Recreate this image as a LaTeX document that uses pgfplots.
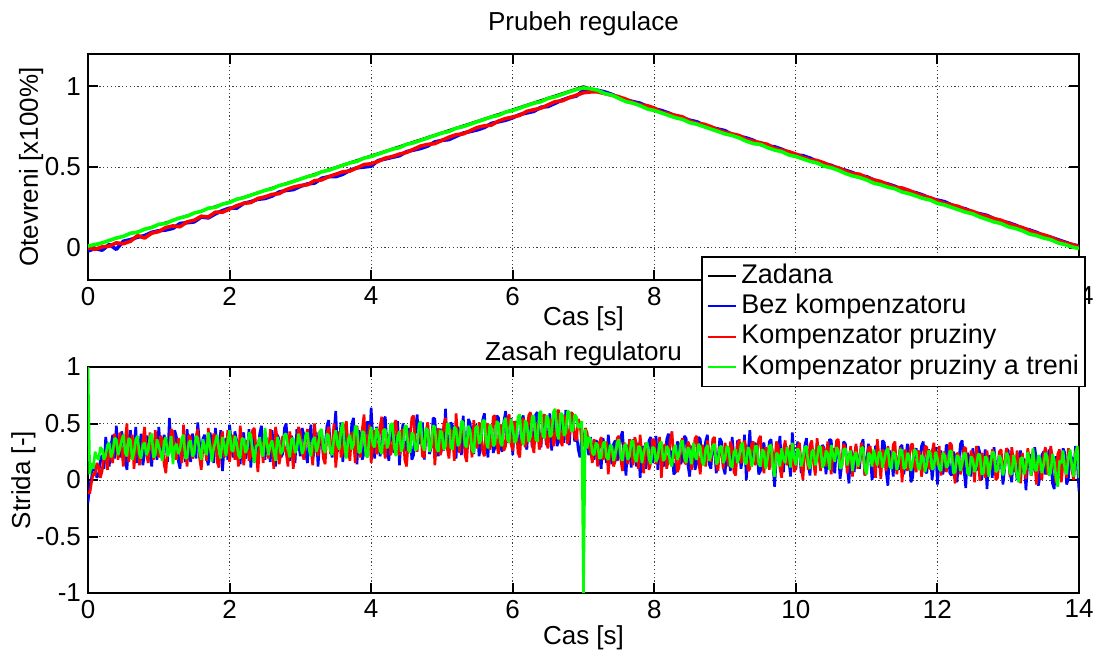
\documentclass[border=0pt]{standalone}
\usepackage{fontspec}
\setmainfont{Liberation Sans}
\usepackage{pgfplots}
\usepackage{pgfplotstable}
\pgfplotsset{compat=1.18}

\definecolor{mblue}{rgb}{0,0,1}
\definecolor{mred}{rgb}{1,0,0}
\definecolor{mgreen}{rgb}{0,1,0}

% measured opening: t, bez kompenzatoru, komp. pruziny, komp. pruziny a treni
\pgfplotstableread{
t b r g
0.0 -0.020 0.000 0.010
0.1 -0.005 -0.010 0.020
0.2 -0.015 0.005 0.030
0.3 0.020 0.010 0.045
0.4 -0.010 0.030 0.060
0.5 0.040 0.025 0.070
0.6 0.050 0.040 0.090
0.7 0.065 0.075 0.095
0.8 0.075 0.060 0.115
0.9 0.095 0.090 0.125
1.0 0.105 0.100 0.145
1.1 0.110 0.125 0.150
1.2 0.120 0.135 0.170
1.3 0.150 0.130 0.185
1.4 0.155 0.160 0.195
1.5 0.160 0.170 0.215
1.6 0.190 0.195 0.225
1.7 0.185 0.190 0.245
1.8 0.210 0.220 0.250
1.9 0.230 0.220 0.270
2.0 0.245 0.240 0.280
2.1 0.245 0.260 0.300
2.2 0.275 0.275 0.310
2.3 0.285 0.280 0.325
2.4 0.300 0.305 0.340
2.5 0.305 0.315 0.355
2.6 0.320 0.330 0.365
2.7 0.345 0.335 0.385
2.8 0.355 0.360 0.395
2.9 0.360 0.375 0.410
3.0 0.380 0.385 0.425
3.1 0.395 0.390 0.440
3.2 0.400 0.415 0.450
3.3 0.430 0.420 0.470
3.4 0.440 0.440 0.480
3.5 0.440 0.455 0.495
3.6 0.455 0.470 0.510
3.7 0.480 0.475 0.525
3.8 0.495 0.495 0.535
3.9 0.500 0.515 0.555
4.0 0.505 0.520 0.565
4.1 0.540 0.535 0.580
4.2 0.550 0.555 0.595
4.3 0.560 0.565 0.610
4.4 0.570 0.580 0.620
4.5 0.595 0.590 0.640
4.6 0.605 0.610 0.650
4.7 0.615 0.630 0.665
4.8 0.630 0.640 0.680
4.9 0.655 0.645 0.695
5.0 0.665 0.665 0.710
5.1 0.670 0.685 0.720
5.2 0.690 0.700 0.740
5.3 0.710 0.705 0.750
5.4 0.720 0.725 0.765
5.5 0.730 0.745 0.780
5.6 0.745 0.755 0.795
5.7 0.770 0.760 0.810
5.8 0.780 0.785 0.820
5.9 0.790 0.800 0.840
6.0 0.805 0.810 0.850
6.1 0.825 0.820 0.865
6.2 0.835 0.845 0.880
6.3 0.845 0.855 0.895
6.4 0.870 0.865 0.905
6.5 0.875 0.885 0.925
6.6 0.895 0.905 0.935
6.7 0.915 0.910 0.950
6.8 0.930 0.930 0.965
6.9 0.940 0.945 0.980
7.0 0.975 0.960 0.990
7.1 0.980 0.965 0.985
7.2 0.975 0.965 0.975
7.3 0.965 0.955 0.955
7.4 0.950 0.945 0.945
7.5 0.930 0.935 0.925
7.6 0.915 0.920 0.905
7.7 0.905 0.900 0.895
7.8 0.895 0.885 0.880
7.9 0.875 0.880 0.860
8.0 0.860 0.865 0.850
8.1 0.850 0.840 0.835
8.2 0.835 0.830 0.820
8.3 0.815 0.820 0.805
8.4 0.805 0.810 0.795
8.5 0.790 0.785 0.775
8.6 0.780 0.770 0.765
8.7 0.760 0.765 0.750
8.8 0.745 0.750 0.735
8.9 0.735 0.730 0.720
9.0 0.725 0.715 0.705
9.1 0.700 0.705 0.695
9.2 0.690 0.695 0.680
9.3 0.680 0.670 0.660
9.4 0.665 0.660 0.645
9.5 0.640 0.650 0.640
9.6 0.630 0.640 0.620
9.7 0.625 0.615 0.605
9.8 0.610 0.605 0.595
9.9 0.590 0.595 0.575
10.0 0.575 0.580 0.565
10.1 0.570 0.560 0.550
10.2 0.555 0.545 0.535
10.3 0.535 0.540 0.525
10.4 0.520 0.525 0.505
10.5 0.510 0.505 0.495
10.6 0.490 0.495 0.480
10.7 0.480 0.475 0.460
10.8 0.465 0.460 0.445
10.9 0.445 0.455 0.435
11.0 0.440 0.435 0.420
11.1 0.420 0.420 0.400
11.2 0.405 0.410 0.390
11.3 0.395 0.390 0.375
11.4 0.380 0.375 0.365
11.5 0.360 0.370 0.345
11.6 0.350 0.355 0.335
11.7 0.340 0.335 0.320
11.8 0.325 0.320 0.305
11.9 0.305 0.310 0.295
12.0 0.295 0.290 0.275
12.1 0.285 0.275 0.265
12.2 0.265 0.265 0.250
12.3 0.250 0.255 0.235
12.4 0.240 0.235 0.220
12.5 0.220 0.225 0.210
12.6 0.210 0.205 0.190
12.7 0.200 0.195 0.175
12.8 0.180 0.180 0.160
12.9 0.165 0.170 0.150
13.0 0.155 0.150 0.130
13.1 0.140 0.135 0.120
13.2 0.120 0.125 0.105
13.3 0.110 0.105 0.085
13.4 0.095 0.090 0.075
13.5 0.075 0.080 0.060
13.6 0.065 0.065 0.050
13.7 0.050 0.045 0.030
13.8 0.035 0.030 0.020
13.9 0.020 0.020 0.005
14.0 0.010 0.005 -0.005
}\posdata

% controller output (strida)
\pgfplotstableread{
t b r g
0.000 -0.20 -0.10 1.00
0.025 -0.05 -0.12 0.05
0.050 0.02 -0.02 0.15
0.075 0.14 0.06 0.10
0.100 0.10 0.04 0.25
0.125 0.02 0.15 0.20
0.150 0.05 0.12 0.18
0.175 0.18 0.02 0.29
0.200 0.22 0.08 0.27
0.225 0.10 0.25 0.18
0.250 0.38 0.20 0.22
0.275 0.25 0.09 0.31
0.300 0.12 0.30 0.33
0.325 0.31 0.21 0.20
0.350 0.40 0.15 0.25
0.375 0.19 0.41 0.37
0.400 0.48 0.33 0.36
0.425 0.30 0.18 0.22
0.450 0.20 0.42 0.28
0.475 0.43 0.27 0.35
0.500 0.35 0.12 0.40
0.525 0.18 0.35 0.24
0.550 0.09 0.50 0.21
0.575 0.32 0.16 0.37
0.600 0.44 0.26 0.35
0.625 0.21 0.40 0.18
0.650 0.28 0.10 0.24
0.675 0.47 0.29 0.36
0.700 0.15 0.38 0.39
0.725 0.26 0.13 0.23
0.750 0.41 0.22 0.19
0.775 0.13 0.35 0.31
0.800 0.24 0.47 0.33
0.825 0.39 0.24 0.22
0.850 0.36 0.15 0.26
0.875 0.22 0.42 0.38
0.900 0.12 0.31 0.41
0.925 0.35 0.18 0.20
0.950 0.30 0.44 0.22
0.975 0.18 0.30 0.36
1.000 0.47 0.20 0.30
1.025 0.27 0.39 0.24
1.050 0.19 0.36 0.17
1.075 0.40 0.14 0.34
1.100 0.33 0.06 0.38
1.125 0.16 0.30 0.21
1.150 0.55 0.28 0.25
1.175 0.30 0.45 0.39
1.200 0.21 0.42 0.14
1.225 0.44 0.25 0.29
1.250 0.38 0.18 0.32
1.275 0.17 0.37 0.23
1.300 0.10 0.33 0.27
1.325 0.34 0.15 0.37
1.350 0.29 0.49 0.40
1.375 0.16 0.26 0.19
1.400 0.45 0.12 0.20
1.425 0.26 0.40 0.33
1.450 0.16 0.37 0.35
1.475 0.41 0.19 0.21
1.500 0.34 0.25 0.23
1.525 0.19 0.38 0.39
1.550 0.51 0.45 0.37
1.575 0.33 0.20 0.25
1.600 0.22 0.09 0.18
1.625 0.37 0.30 0.36
1.650 0.40 0.32 0.29
1.675 0.20 0.17 0.22
1.700 0.13 0.46 0.42
1.725 0.42 0.28 0.30
1.750 0.32 0.21 0.16
1.775 0.15 0.41 0.28
1.800 0.46 0.38 0.34
1.825 0.28 0.16 0.40
1.850 0.25 0.11 0.26
1.875 0.44 0.35 0.19
1.900 0.08 0.43 0.38
1.925 0.30 0.20 0.31
1.950 0.37 0.27 0.21
1.975 0.18 0.44 0.35
2.000 0.49 0.16 0.44
2.025 0.33 0.31 0.27
2.050 0.20 0.40 0.25
2.075 0.43 0.18 0.39
2.100 0.35 0.30 0.33
2.125 0.21 0.12 0.22
2.150 0.14 0.48 0.19
2.175 0.38 0.33 0.37
2.200 0.42 0.13 0.36
2.225 0.19 0.27 0.24
2.250 0.27 0.35 0.28
2.275 0.45 0.17 0.42
2.300 0.11 0.22 0.40
2.325 0.32 0.44 0.26
2.350 0.39 0.46 0.15
2.375 0.22 0.26 0.30
2.400 0.24 0.07 0.31
2.425 0.41 0.30 0.38
2.450 0.48 0.34 0.24
2.475 0.26 0.15 0.21
2.500 0.18 0.41 0.46
2.525 0.37 0.33 0.34
2.550 0.31 0.19 0.22
2.575 0.16 0.45 0.31
2.600 0.44 0.29 0.35
2.625 0.29 0.10 0.25
2.650 0.12 0.47 0.17
2.675 0.40 0.36 0.38
2.700 0.36 0.14 0.33
2.725 0.20 0.23 0.23
2.750 0.23 0.39 0.26
2.775 0.46 0.29 0.40
2.800 0.50 0.24 0.41
2.825 0.26 0.12 0.28
2.850 0.17 0.43 0.20
2.875 0.39 0.31 0.36
2.900 0.34 0.10 0.37
2.925 0.15 0.28 0.24
2.950 0.45 0.32 0.27
2.975 0.32 0.47 0.41
3.000 0.21 0.42 0.34
3.025 0.46 0.24 0.23
3.050 0.40 0.18 0.28
3.075 0.24 0.36 0.40
3.100 0.15 0.45 0.42
3.125 0.37 0.30 0.26
3.150 0.49 0.27 0.21
3.175 0.19 0.13 0.35
3.200 0.26 0.50 0.38
3.225 0.42 0.33 0.25
3.250 0.12 0.21 0.30
3.275 0.35 0.43 0.43
3.300 0.44 0.38 0.45
3.325 0.23 0.19 0.28
3.350 0.30 0.14 0.24
3.375 0.48 0.41 0.41
3.400 0.53 0.47 0.39
3.425 0.28 0.23 0.26
3.450 0.20 0.30 0.22
3.475 0.42 0.50 0.37
3.500 0.61 0.11 0.44
3.525 0.25 0.29 0.31
3.550 0.33 0.43 0.27
3.575 0.51 0.20 0.45
3.600 0.16 0.25 0.51
3.625 0.38 0.46 0.30
3.650 0.47 0.52 0.19
3.675 0.22 0.28 0.36
3.700 0.27 0.17 0.40
3.725 0.49 0.42 0.27
3.750 0.55 0.36 0.31
3.775 0.26 0.15 0.48
3.800 0.14 0.48 0.46
3.825 0.44 0.31 0.24
3.850 0.39 0.20 0.25
3.875 0.18 0.45 0.43
3.900 0.24 0.58 0.42
3.925 0.45 0.27 0.22
3.950 0.52 0.31 0.20
3.975 0.30 0.49 0.38
4.000 0.64 0.15 0.47
4.025 0.36 0.32 0.31
4.050 0.19 0.44 0.29
4.075 0.47 0.23 0.46
4.100 0.42 0.26 0.41
4.125 0.21 0.47 0.26
4.150 0.28 0.56 0.23
4.175 0.53 0.30 0.44
4.200 0.56 0.19 0.45
4.225 0.29 0.38 0.28
4.250 0.17 0.40 0.33
4.275 0.39 0.22 0.49
4.300 0.45 0.28 0.50
4.325 0.24 0.49 0.30
4.350 0.31 0.53 0.21
4.375 0.52 0.27 0.39
4.400 0.13 0.22 0.43
4.425 0.37 0.43 0.25
4.450 0.50 0.45 0.30
4.475 0.27 0.18 0.47
4.500 0.26 0.12 0.48
4.525 0.46 0.34 0.27
4.550 0.41 0.37 0.24
4.575 0.18 0.55 0.42
4.600 0.22 0.57 0.40
4.625 0.44 0.29 0.26
4.650 0.58 0.25 0.28
4.675 0.32 0.46 0.49
4.700 0.35 0.44 0.52
4.725 0.51 0.21 0.31
4.750 0.18 0.20 0.26
4.775 0.40 0.43 0.46
4.800 0.47 0.51 0.44
4.825 0.23 0.26 0.25
4.850 0.29 0.30 0.31
4.875 0.55 0.48 0.48
4.900 0.54 0.13 0.47
4.925 0.31 0.35 0.28
4.950 0.21 0.46 0.25
4.975 0.45 0.22 0.44
5.000 0.43 0.27 0.42
5.025 0.26 0.49 0.27
5.050 0.63 0.55 0.30
5.075 0.35 0.28 0.50
5.100 0.24 0.19 0.49
5.125 0.51 0.45 0.29
5.150 0.48 0.41 0.27
5.175 0.25 0.17 0.47
5.200 0.19 0.59 0.45
5.225 0.47 0.36 0.30
5.250 0.40 0.24 0.33
5.275 0.22 0.52 0.52
5.300 0.57 0.47 0.51
5.325 0.33 0.22 0.31
5.350 0.27 0.16 0.29
5.375 0.54 0.43 0.48
5.400 0.50 0.38 0.44
5.425 0.28 0.20 0.27
5.450 0.23 0.53 0.24
5.475 0.49 0.36 0.46
5.500 0.45 0.28 0.48
5.525 0.21 0.51 0.32
5.550 0.32 0.44 0.35
5.575 0.53 0.25 0.52
5.600 0.59 0.21 0.53
5.625 0.34 0.47 0.34
5.650 0.20 0.50 0.28
5.675 0.48 0.27 0.49
5.700 0.46 0.33 0.46
5.725 0.24 0.56 0.30
5.750 0.29 0.57 0.32
5.775 0.57 0.31 0.52
5.800 0.55 0.23 0.50
5.825 0.30 0.49 0.33
5.850 0.25 0.45 0.30
5.875 0.52 0.26 0.51
5.900 0.61 0.30 0.55
5.925 0.33 0.54 0.36
5.950 0.36 0.58 0.33
5.975 0.55 0.32 0.54
6.000 0.22 0.26 0.47
6.025 0.47 0.52 0.33
6.050 0.52 0.49 0.35
6.075 0.28 0.24 0.56
6.100 0.30 0.20 0.58
6.125 0.54 0.48 0.37
6.150 0.57 0.55 0.31
6.175 0.32 0.29 0.53
6.200 0.27 0.35 0.50
6.225 0.55 0.57 0.34
6.250 0.49 0.60 0.38
6.275 0.29 0.31 0.57
6.300 0.35 0.24 0.56
6.325 0.58 0.50 0.36
6.350 0.60 0.47 0.34
6.375 0.33 0.27 0.59
6.400 0.29 0.32 0.61
6.425 0.56 0.56 0.39
6.450 0.53 0.58 0.37
6.475 0.31 0.33 0.57
6.500 0.38 0.28 0.55
6.525 0.59 0.54 0.38
6.550 0.26 0.52 0.40
6.575 0.45 0.30 0.60
6.600 0.56 0.37 0.63
6.625 0.30 0.60 0.41
6.650 0.34 0.62 0.36
6.675 0.58 0.35 0.59
6.700 0.47 0.30 0.58
6.725 0.33 0.57 0.39
6.750 0.62 0.55 0.42
6.775 0.36 0.32 0.61
6.800 0.31 0.40 0.60
6.825 0.57 0.60 0.43
6.850 0.55 0.58 0.44
6.875 0.34 0.38 0.58
6.900 0.43 0.35 0.56
6.925 0.27 0.54 0.46
6.950 0.20 0.50 0.48
6.975 0.41 0.33 0.52
7.000 0.35 0.30 -1.00
7.025 0.44 0.46 0.45
7.050 0.30 0.42 0.28
7.075 0.22 0.30 0.38
7.100 0.38 0.25 0.36
7.125 0.27 0.15 0.24
7.150 0.18 0.36 0.22
7.175 0.35 0.28 0.33
7.200 0.33 0.12 0.31
7.225 0.20 0.33 0.19
7.250 0.10 0.38 0.20
7.275 0.37 0.18 0.32
7.300 0.29 0.21 0.34
7.325 0.15 0.34 0.20
7.350 0.40 0.05 0.18
7.375 0.25 0.26 0.31
7.400 0.14 0.30 0.30
7.425 0.32 0.12 0.17
7.450 0.35 0.17 0.23
7.475 0.17 0.37 0.33
7.500 0.22 0.39 0.36
7.525 0.38 0.19 0.21
7.550 0.43 0.08 0.17
7.575 0.20 0.33 0.30
7.600 0.04 0.29 0.32
7.625 0.31 0.14 0.18
7.650 0.27 0.36 0.21
7.675 0.11 0.25 0.34
7.700 0.36 0.13 0.35
7.725 0.23 0.38 0.19
7.750 0.12 0.31 0.16
7.775 0.33 0.10 0.30
7.800 0.02 0.40 0.29
7.825 0.26 0.22 0.15
7.850 0.30 0.06 0.24
7.875 0.10 0.33 0.31
7.900 0.18 0.27 0.33
7.925 0.35 0.09 0.19
7.950 0.38 0.15 0.14
7.975 0.15 0.36 0.29
8.000 0.24 0.35 0.28
8.025 0.39 0.14 0.16
8.050 0.09 0.21 0.20
8.075 0.28 0.38 0.32
8.100 0.33 0.02 0.34
8.125 0.12 0.26 0.17
8.150 0.16 0.32 0.19
8.175 0.36 0.10 0.30
8.200 0.41 0.18 0.27
8.225 0.19 0.35 0.15
8.250 0.26 0.43 0.12
8.275 0.05 0.19 0.28
8.300 0.07 0.24 0.31
8.325 0.34 0.07 0.18
8.350 0.31 0.11 0.22
8.375 0.14 0.33 0.33
8.400 0.20 0.37 0.35
8.425 0.39 0.16 0.20
8.450 0.37 0.14 0.15
8.475 0.13 0.34 0.29
8.500 0.03 0.30 0.26
8.525 0.30 0.09 0.14
8.550 0.28 0.20 0.33
8.575 0.09 0.37 0.21
8.600 0.15 0.39 0.18
8.625 0.38 0.17 0.32
8.650 0.36 0.05 0.29
8.675 0.18 0.31 0.16
8.700 0.22 0.28 0.13
8.725 0.34 0.12 0.27
8.750 0.40 0.35 0.31
8.775 0.14 0.23 0.17
8.800 0.10 0.16 0.21
8.825 0.32 0.36 0.30
8.850 0.29 0.38 0.32
8.875 0.06 0.14 0.14
8.900 0.17 0.08 0.16
8.925 0.37 0.30 0.29
8.950 0.34 0.26 0.30
8.975 0.11 0.10 0.15
9.000 0.05 0.33 0.19
9.025 0.29 0.22 0.30
9.050 0.25 0.12 0.28
9.075 0.08 0.34 0.13
9.100 0.38 0.29 0.11
9.125 0.20 0.07 0.25
9.150 0.13 0.04 0.27
9.175 0.35 0.31 0.15
9.200 0.30 0.36 0.20
9.225 0.10 0.15 0.31
9.250 0.21 0.18 0.33
9.275 0.40 0.35 0.16
9.300 0.00 0.27 0.14
9.325 0.24 0.08 0.29
9.350 0.44 0.10 0.26
9.375 0.16 0.32 0.12
9.400 0.19 0.34 0.17
9.425 0.33 0.13 0.30
9.450 0.27 0.21 0.30
9.475 0.05 0.36 0.14
9.500 0.08 0.39 0.12
9.525 0.30 0.16 0.27
9.550 0.33 0.06 0.25
9.575 0.12 0.29 0.10
9.600 0.16 0.25 0.19
9.625 0.34 0.09 0.30
9.650 0.36 0.32 0.31
9.675 0.14 0.23 0.11
9.700 -0.06 0.14 0.03
9.725 0.20 0.34 0.24
9.750 0.24 0.30 0.22
9.775 0.39 0.10 0.12
9.800 0.12 0.02 0.28
9.825 0.07 0.27 0.19
9.850 0.31 0.35 0.15
9.875 0.28 0.13 0.29
9.900 0.18 0.19 0.24
9.925 0.03 0.31 0.11
9.950 0.42 0.26 0.33
9.975 0.21 0.07 0.20
10.000 0.09 0.11 0.13
10.025 0.34 0.29 0.28
10.050 0.27 0.33 0.25
10.075 0.06 0.14 0.12
10.100 0.15 0.00 0.18
10.125 0.30 0.27 0.29
10.150 0.37 0.24 0.30
10.175 0.13 0.09 0.14
10.200 0.04 0.31 0.10
10.225 0.29 0.35 0.25
10.250 0.23 0.16 0.27
10.275 0.08 0.04 0.13
10.300 0.33 0.37 0.19
10.325 0.25 0.21 0.30
10.350 0.11 0.08 0.29
10.375 0.31 0.30 0.11
10.400 0.28 0.26 0.14
10.425 0.05 0.12 0.26
10.450 0.19 0.34 0.23
10.475 0.36 0.18 0.09
10.500 0.35 0.05 0.31
10.525 0.14 0.28 0.22
10.550 0.06 0.22 0.16
10.575 0.30 0.35 0.29
10.600 0.26 0.36 0.26
10.625 0.01 0.10 0.10
10.650 0.14 0.13 0.12
10.675 0.34 0.32 0.27
10.700 0.32 0.28 0.28
10.725 0.12 0.06 0.13
10.750 -0.03 0.18 0.21
10.775 0.27 0.30 0.26
10.800 0.22 0.03 0.08
10.825 0.07 0.21 0.20
10.850 0.30 0.32 0.25
10.875 0.18 0.10 0.12
10.900 0.10 0.15 0.17
10.925 0.31 0.33 0.28
10.950 0.36 0.25 0.29
10.975 0.04 0.04 0.10
11.000 0.17 0.09 0.05
11.025 0.32 0.28 0.24
11.050 0.25 0.30 0.22
11.075 0.00 0.14 0.12
11.100 0.07 0.19 0.27
11.125 0.30 0.02 0.19
11.150 0.29 0.36 0.13
11.175 0.11 0.21 0.25
11.200 0.13 0.01 0.24
11.225 0.35 0.27 0.11
11.250 0.33 0.23 0.18
11.275 0.08 0.08 0.26
11.300 -0.05 0.30 0.28
11.325 0.26 0.16 0.12
11.350 0.21 0.12 0.10
11.375 0.03 0.31 0.25
11.400 0.27 0.34 0.23
11.425 0.15 0.05 0.09
11.450 0.09 0.17 0.15
11.475 0.29 0.29 0.27
11.500 0.31 -0.02 0.26
11.525 0.05 0.18 0.10
11.550 0.16 0.27 0.11
11.575 0.32 0.08 0.24
11.600 0.24 0.20 0.21
11.625 -0.02 0.31 0.08
11.650 0.02 0.32 0.16
11.675 0.25 0.12 0.27
11.700 0.28 0.07 0.25
11.725 0.10 0.26 0.11
11.750 0.18 0.24 0.09
11.775 0.30 0.03 0.22
11.800 0.34 0.14 0.20
11.825 0.08 0.30 0.07
11.850 0.06 0.29 0.14
11.875 0.27 0.11 0.26
11.900 0.23 0.10 0.24
11.925 0.00 0.25 0.09
11.950 0.15 0.33 0.12
11.975 0.29 0.13 0.25
12.000 -0.04 0.18 0.19
12.025 0.19 0.30 0.10
12.050 0.26 0.04 0.08
12.075 0.05 0.20 0.24
12.100 0.12 0.25 0.22
12.125 0.31 0.07 0.11
12.150 0.30 0.16 0.13
12.175 0.06 0.33 0.26
12.200 0.04 0.31 0.25
12.225 0.25 0.10 0.06
12.250 0.21 -0.03 0.07
12.275 -0.02 0.24 0.22
12.300 0.14 0.22 0.20
12.325 0.32 0.05 0.08
12.350 0.35 0.12 0.15
12.375 0.09 0.29 0.24
12.400 -0.07 0.28 0.23
12.425 0.24 0.08 0.06
12.450 0.19 0.06 0.04
12.475 0.03 0.26 0.21
12.500 0.28 0.21 0.18
12.525 0.16 -0.02 0.07
12.550 0.08 0.30 0.12
12.575 0.30 0.19 0.23
12.600 0.24 -0.01 0.22
12.625 0.00 0.24 0.05
12.650 0.13 0.17 0.06
12.675 0.27 0.02 0.21
12.700 -0.08 0.26 0.19
12.725 0.17 0.12 0.03
12.750 0.22 0.09 0.14
12.775 0.02 0.27 0.25
12.800 0.29 0.23 0.24
12.825 0.11 0.00 0.07
12.850 0.05 0.02 0.09
12.875 0.25 0.25 0.22
12.900 0.18 0.27 0.18
12.925 -0.04 0.06 0.04
12.950 0.10 0.14 0.11
12.975 0.28 0.28 0.24
13.000 0.26 0.20 0.21
13.025 0.06 0.03 0.06
13.050 -0.02 0.29 0.05
13.075 0.22 0.17 0.22
13.100 0.15 0.07 0.16
13.125 0.00 0.26 0.03
13.150 0.21 0.16 -0.02
13.175 0.26 -0.03 0.19
13.200 0.07 0.24 0.20
13.225 0.19 0.11 0.05
13.250 -0.09 0.01 0.11
13.275 0.14 0.28 0.25
13.300 0.23 0.19 0.17
13.325 0.04 0.04 0.04
13.350 0.12 0.27 0.28
13.375 0.29 0.14 0.10
13.400 0.17 -0.04 0.08
13.425 -0.05 0.21 0.22
13.450 0.03 0.15 0.19
13.475 0.22 0.00 0.06
13.500 0.25 0.22 0.13
13.525 0.05 0.29 0.24
13.550 0.09 0.05 0.21
13.575 0.27 0.11 0.04
13.600 0.20 0.30 0.06
13.625 -0.03 0.20 0.23
13.650 -0.08 0.13 0.18
13.675 0.21 -0.03 0.02
13.700 0.16 0.23 -0.06
13.725 0.02 0.27 0.17
13.750 0.11 -0.02 0.15
13.775 0.28 0.14 0.26
13.800 0.24 0.18 0.09
13.825 -0.04 0.02 0.05
13.850 0.01 0.28 0.20
13.875 0.23 0.22 0.27
13.900 0.19 0.09 0.12
13.925 0.04 0.00 0.03
13.950 0.30 0.25 0.23
13.975 0.17 0.29 0.30
14.000 -0.10 0.20 0.02
}\ctrldata

\pgfplotsset{
  matlab/.style={
    scale only axis, width=495.5pt, height=113pt,
    xmin=0, xmax=14, xtick={0,2,...,14},
    grid=major,
    major grid style={black!75, line width=0.4pt, dash pattern=on 0.6pt off 1.3pt},
    axis line style={line width=1pt},
    every tick/.style={black, line width=1pt},
    major tick length=5pt,
    tick align=inside,
    /pgf/number format/assume math mode=true,
    tick label style={font=\fontsize{13}{15}\selectfont},
    label style={font=\fontsize{13}{15}\selectfont},
    title style={font=\fontsize{13}{15}\selectfont},
    every axis plot/.append style={line width=1pt, line join=bevel},
  },
}

\begin{document}
\begin{tikzpicture}
\useasboundingbox (-44pt,-30pt) rectangle (504.5pt,296.5pt);

% lower axis first, so the legend of the upper axis lies on top of it
\begin{axis}[matlab,
    at={(0,0)}, anchor=south west,
    ymin=-1, ymax=1, ytick={-1,-0.5,0,0.5,1},
    title={Zasah regulatoru},
    title style={at={(axis description cs:0.5,1)}, anchor=base, yshift=-2.5pt},
    xlabel={Cas [s]},
    xlabel style={at={(axis description cs:0.5,0)}, anchor=base, yshift=-25.5pt},
    ylabel={Strida [-]},
    ylabel style={at={(axis description cs:-0.0585,0.5)}, anchor=base},
  ]
  \addplot[mblue, line width=1.3pt] table[x=t, y=b] {\ctrldata};
  \addplot[mred, line width=1.3pt] table[x=t, y=r] {\ctrldata};
  \addplot[mgreen, line width=1.3pt] table[x=t, y=g] {\ctrldata};
\end{axis}

\begin{axis}[matlab,
    at={(0,156.5pt)}, anchor=south west,
    ymin=-0.2, ymax=1.2, ytick={0,0.5,1},
    title={Prubeh regulace},
    title style={at={(axis description cs:0.5,1)}, anchor=base, yshift=5.5pt},
    xlabel={Cas [s]},
    xlabel style={at={(axis description cs:0.5,0)}, anchor=base, yshift=-23pt},
    ylabel={Otevreni [x100\%]},
    ylabel style={at={(axis description cs:-0.0505,0.5)}, anchor=base},
    legend image code/.code={\draw[#1, line width=1pt] (0pt,0pt) -- (14pt,0pt);},
    legend cell align=left,
    legend style={
      at={(axis description cs:1.007,0.106)}, anchor=north east,
      draw=black, line width=0.8pt, fill=white,
      font=\fontsize{13.5}{15}\selectfont,
      inner sep=2.5pt, row sep=1pt,
      nodes={inner sep=0.6pt, text height=10pt, text depth=3pt},
      /tikz/every odd column/.append style={column sep=1.5pt},
    },
  ]
  \addplot[black] coordinates {(0,0) (7,1) (14,0)};
  \addplot[mblue, line width=1.8pt] table[x=t, y=b] {\posdata};
  \addplot[mred, line width=1.8pt] table[x=t, y=r] {\posdata};
  \addplot[mgreen, line width=1.8pt] table[x=t, y=g] {\posdata};
  \legend{Zadana, Bez kompenzatoru, Kompenzator pruziny, Kompenzator pruziny a treni}
\end{axis}
\end{tikzpicture}
\end{document}
